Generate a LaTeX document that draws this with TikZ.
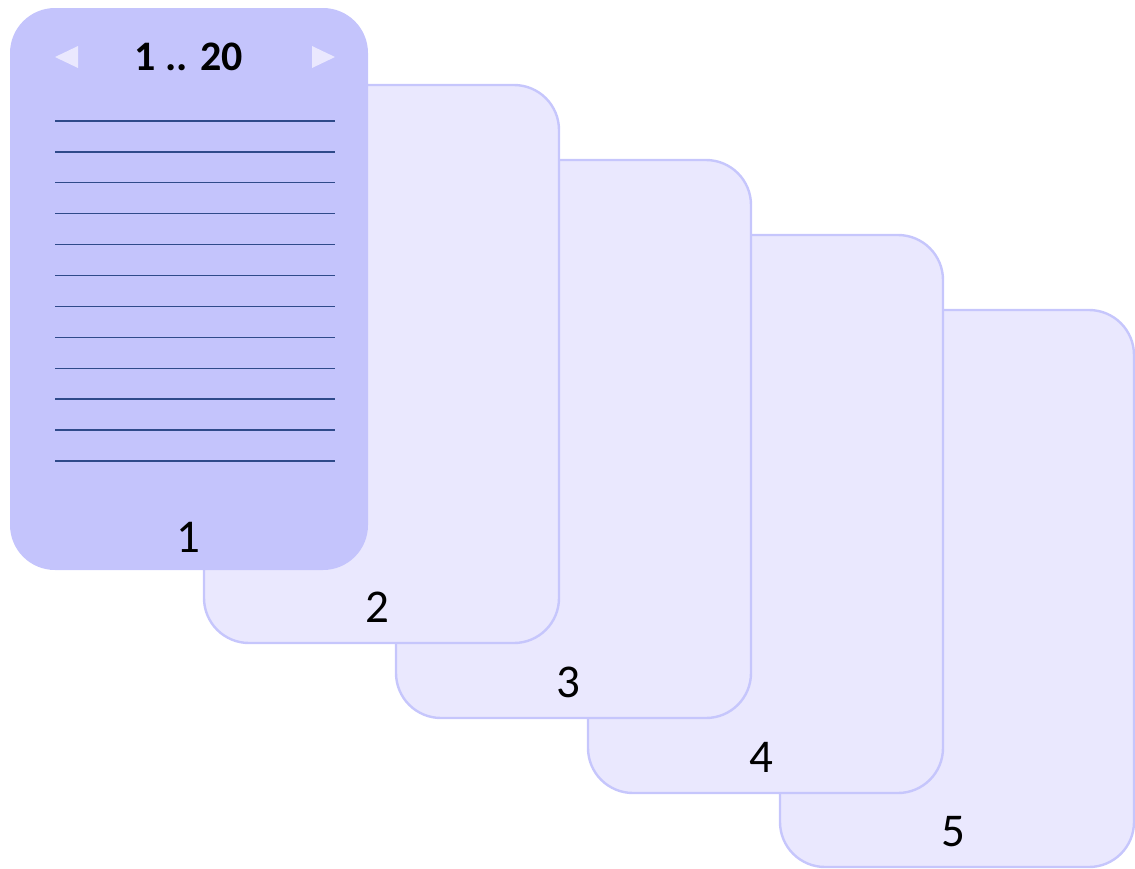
\documentclass[tikz,border=0pt]{standalone}
\usepackage{fontspec}
\setmainfont{Carlito}
\definecolor{cardfill}{HTML}{EAE8FE}
\definecolor{cardedge}{HTML}{C6C6FC}
\definecolor{topfill}{HTML}{C4C4FC}
\definecolor{rulecol}{HTML}{2F4A8A}
\begin{document}
\begin{tikzpicture}[x=1pt,y=-1pt,
  card/.style={draw=cardedge,line width=2.4pt,fill=cardfill,rounded corners=45pt},
  topcard/.style={fill=topfill,rounded corners=45pt},
  numlabel/.style={font=\fontsize{47}{52}\selectfont,text=black,inner sep=0pt},
  rulel/.style={draw=rulecol,line width=1.3pt},
  tri/.style={fill=cardfill,draw=none}]
\useasboundingbox (0,0) rectangle (1135,868);
% cards, back to front
\path[card] (780,310) rectangle (1134,867);
\node[numlabel] (n5) at (953,832) {5};
\path[card] (588,235) rectangle (943,793);
\node[numlabel] (n4) at (761,757) {4};
\path[card] (396,160) rectangle (751,718);
\node[numlabel] (n3) at (568,682) {3};
\path[card] (204,85) rectangle (559,643);
\node[numlabel] (n2) at (377,607) {2};
\path[topcard] (10,8) rectangle (368,570);
\node[numlabel] (n1) at (188,537) {1};
% header
\node[font=\fontsize{42}{46}\selectfont\bfseries,inner sep=0pt] (hdr) at (189,57) {1 .. 20};
\path[tri] (55,57) -- (78,46) -- (78,68) -- cycle;
\path[tri] (335,57) -- (312,46) -- (312,68) -- cycle;
% ruled lines
\foreach \i in {0,...,11}{
  \coordinate (la\i) at (55,{121+30.9*\i});
  \coordinate (lb\i) at (335,{121+30.9*\i});
  \draw[rulel] (la\i) -- (lb\i);
}
\end{tikzpicture}
\end{document}
